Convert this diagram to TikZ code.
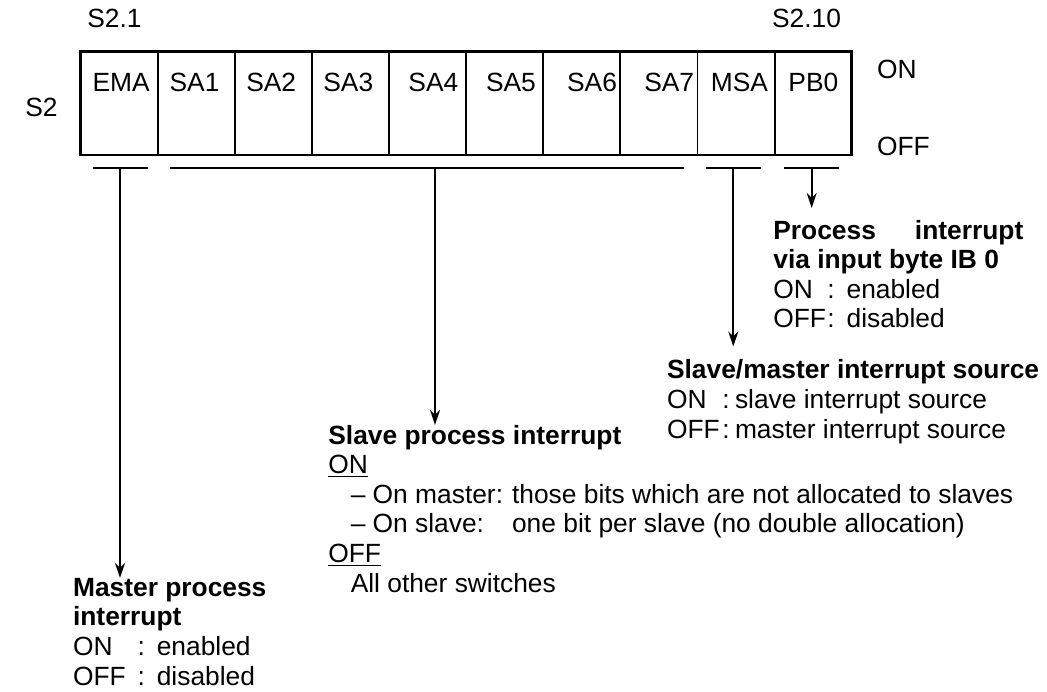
\documentclass[tikz,border=0pt]{standalone}
\usepackage{fontspec}
\setmainfont{Liberation Sans}
\usetikzlibrary{arrows.meta, positioning}

\begin{document}
\begin{tikzpicture}[
  font=\fontsize{15pt}{16.8pt}\selectfont,
  fleche/.style={
    -{Stealth[length=3mm, width=2mm]},
    line width=1.1pt, draw=black
  },
  lab/.style={inner sep=0pt, anchor=base west},
  bloc/.style={lab, align=left},
  cellule/.style={
    draw, line width=1.1pt, minimum width=1.542cm, minimum height=2.06cm,
    inner sep=0pt, outer sep=0pt
  },
  barre/.style={line width=1.1pt}
]
\useasboundingbox (0,0) rectangle (20.94,-13.84);

% --- 1. Interrupteur S2 : dix cases ---
\foreach \nm/\txt/\off [count=\i from 0] in {
    ema/EMA/0.23, sa1/SA1/0.23, sa2/SA2/0.22, sa3/SA3/0.22, sa4/SA4/0.38,
    sa5/SA5/0.39, sa6/SA6/0.47, sa7/SA7/0.47, msa/MSA/0.26, pb0/PB0/0.27} {
  \node[cellule] (\nm) at (2.385+1.542*\i, -2.07) {};
  \node[lab] (l\nm) at ([xshift=\off cm, yshift=-0.80cm]\nm.north west) {\txt};
}
\draw[line width=1.7pt] (ema.north west) rectangle (pb0.south east);

\node[lab] (s21) at (1.74,-0.56) {S2.1};
\node[lab] (s210) at (15.434,-0.546) {S2.10};
\node[lab] (s2) at (0.50,-2.34) {S2};
\node[lab] (on) at (17.534,-1.58) {ON};
\node[lab] (off) at (17.534,-3.12) {OFF};

% --- 2. Accolades sous les cases ---
\draw[barre] (1.866,-3.36) -- (2.966,-3.36);
\draw[barre] (3.40,-3.36) -- (13.68,-3.36);
\draw[barre] (14.12,-3.36) -- (15.22,-3.36);
\draw[barre] (15.686,-3.36) -- (16.78,-3.36);
\coordinate (emastem) at (2.40,-3.36);
\coordinate (sastem) at (8.70,-3.36);
\coordinate (msastem) at (14.666,-3.36);
\coordinate (pbstem) at (16.234,-3.36);

% --- 3. Textes (ancrés sur la dernière ligne) ---
\node[bloc] (pbtxt) at (15.46,-6.56)
  {\makebox[5cm][s]{\textbf{Process interrupt}}\\
   \textbf{via input byte IB 0}\\
   \makebox[2.05em][l]{ON}:\hspace{0.45em}enabled\\
   \makebox[2.05em][l]{OFF}:\hspace{0.45em}disabled};
\node[bloc] (msatxt) at (13.334,-8.76)
  {\textbf{Slave/master interrupt source}\\
   \makebox[2.1em][l]{ON}:\hspace{0.2em}slave interrupt source\\
   \makebox[2.1em][l]{OFF}:\hspace{0.2em}master interrupt source};
\node[bloc] (satxt) at (6.56,-11.84)
  {\textbf{Slave process interrupt}\\
   \underline{ON}\\
   \hspace*{0.85em}\makebox[6.12em][l]{– On master:}those bits which are not allocated to slaves\\
   \hspace*{0.85em}\makebox[6.12em][l]{– On slave:}one bit per slave (no double allocation)\\
   \underline{OFF}\\
   \hspace*{0.85em}All other switches};
\node[bloc] (ematxt) at (1.454,-13.70)
  {\textbf{Master process}\\
   \textbf{interrupt}\\
   \makebox[2.45em][l]{ON}:\hspace{0.45em}enabled\\
   \makebox[2.45em][l]{OFF}:\hspace{0.45em}disabled};

% Flèches
\draw[fleche] (emastem) -- (emastem |- ematxt.north);
\draw[fleche] (sastem) -- (sastem |- satxt.north);
\draw[fleche, shorten >=0.26cm] (msastem) -- (msastem |- msatxt.north);
\draw[fleche, shorten >=0.24cm] (pbstem) -- (pbstem |- pbtxt.north);

\end{tikzpicture}
\end{document}
